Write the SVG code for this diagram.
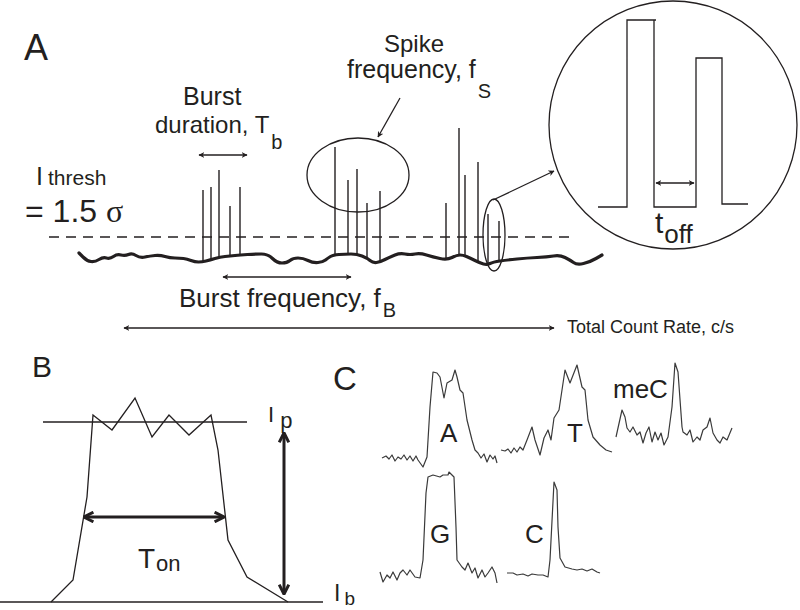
<svg xmlns="http://www.w3.org/2000/svg" width="800" height="610" viewBox="0 0 800 610">
<defs>
<style>
text{font-family:"Liberation Sans","Open Sans",Arial,sans-serif;fill:#231f20}
.ln{fill:none;stroke:#231f20;stroke-width:1.3}
.sp{fill:none;stroke:#231f20;stroke-width:1.4}
.ar{fill:none;stroke:#231f20;stroke-width:1.3;marker-start:url(#ah);marker-end:url(#ah)}
.tk{fill:none;stroke:#231f20;stroke-width:3;marker-start:url(#ahb);marker-end:url(#ahb)}
.tr{fill:none;stroke:#3a3a3a;stroke-width:1.2;stroke-linejoin:round}
</style>
<marker id="ah" viewBox="0 0 10 10" refX="9" refY="5" markerWidth="6" markerHeight="6" markerUnits="userSpaceOnUse" orient="auto-start-reverse"><path d="M0,0 L10,5 L0,10 L3,5 z" fill="#231f20"/></marker>
<marker id="ahb" viewBox="0 0 10 10" refX="8" refY="5" markerWidth="12" markerHeight="12" markerUnits="userSpaceOnUse" orient="auto-start-reverse"><path d="M1,1 L9,5 L1,9" fill="none" stroke="#231f20" stroke-width="2.5"/></marker>
</defs>
<rect width="800" height="610" fill="#fff"/>

<g id="panelA">
<text x="24" y="60" font-size="36">A</text>
<text x="183" y="105" font-size="25">Burst</text>
<text x="155" y="133" font-size="24">duration, T<tspan font-size="20" dy="16" dx="2">b</tspan></text>
<text x="384" y="52" font-size="24">Spike</text>
<text x="347" y="78" font-size="25">frequency, f<tspan font-size="20" dy="20" dx="2">S</tspan></text>
<text x="36" y="185"><tspan font-size="25">I</tspan><tspan font-size="21" dx="5">thresh</tspan></text>
<text x="25" y="222" font-size="32">= 1.5 <tspan font-family="Liberation Serif, serif">σ</tspan></text>
<text x="179" y="307" font-size="26">Burst frequency, f<tspan font-size="20" dy="10" dx="2">B</tspan></text>
<text x="567" y="333" font-size="18">Total Count Rate, c/s</text>

<line x1="49" y1="237" x2="570" y2="237" stroke="#231f20" stroke-width="1.3" stroke-dasharray="10,7"/>
<path fill="none" stroke="#231f20" stroke-width="3.2" stroke-linejoin="round" stroke-linecap="round" d="M79,253 L83,257 Q87,261 91,261.5 Q95,262 99,259.5 Q103,257 106.5,258 Q110,259 113.5,256.5 Q117,254 121,255 Q125,256 128.5,254.5 Q132,253 136,255.5 Q140,258 145,257 Q150,256 155,255.5 Q160,255 165,256.5 Q170,258 175,258 Q180,258 183.5,258.5 Q187,259 191,260.5 Q195,262 198.5,262 Q202,262 206,261 Q210,260 215,258.5 Q220,257 225,256.5 Q230,256 235,255.5 Q240,255 247.5,254.5 Q255,254 261.5,254 Q268,254 272.5,258.5 Q277,263 282,263 Q287,263 290,260.5 Q293,258 298,258 Q303,258 308,260.5 Q313,263 318,262.5 Q323,262 325.5,260 Q328,258 330.5,256.5 Q333,255 339,254.5 Q345,254 351,254 Q357,254 362,256 Q367,258 370,260.5 Q373,263 376.5,262.5 Q380,262 385,259.5 Q390,257 395,255 Q400,253 405,254 Q410,255 415,254 Q420,253 426.5,255 Q433,257 440,258.5 Q447,260 452,257.5 Q457,255 460,255 Q463,255 466.5,256.5 Q470,258 475,260.5 Q480,263 483.5,264 Q487,265 490,263.5 Q493,262 500,261 Q507,260 517,259 Q527,258 537,257.5 Q547,257 553.5,256 Q560,255 565,257.5 Q570,260 573.5,262.5 Q577,265 583.5,263.5 Q590,262 596,258.5 L602,255"/>

<g id="spikes">
<line class="sp" x1="203" y1="190" x2="203" y2="262"/>
<line class="sp" x1="211" y1="187" x2="211" y2="260"/>
<line class="sp" x1="219" y1="170" x2="219" y2="258"/>
<line class="sp" x1="230" y1="206" x2="230" y2="256"/>
<line class="sp" x1="240" y1="187" x2="240" y2="255"/>
<line class="sp" x1="335" y1="147" x2="335" y2="255"/>
<line class="sp" x1="348" y1="180" x2="348" y2="254"/>
<line class="sp" x1="357" y1="169" x2="357" y2="254"/>
<line class="sp" x1="367" y1="203" x2="367" y2="258"/>
<line class="sp" x1="380" y1="191" x2="380" y2="262"/>
<line class="sp" x1="446" y1="203" x2="446" y2="259"/>
<line class="sp" x1="459" y1="128" x2="459" y2="255"/>
<line class="sp" x1="465" y1="175" x2="465" y2="255"/>
<line class="sp" x1="478" y1="162" x2="478" y2="262"/>
<line class="sp" x1="488" y1="214" x2="488" y2="265"/>
<line class="sp" x1="499" y1="221" x2="499" y2="262"/>
</g>

<ellipse class="ln" cx="358" cy="175" rx="51" ry="37"/>
<ellipse class="ln" cx="494" cy="235" rx="11" ry="36"/>
<circle class="ln" cx="673" cy="125" r="124"/>
<path class="ln" d="M598,207 H627 V20 H656 M654,20 V207 H696 V58 H722 V204 H748"/>
<text x="655" y="233" font-size="30">t<tspan font-size="26" dy="10" dx="1">off</tspan></text>
</g>

<g id="connectors">
<line class="ar" x1="199" y1="155" x2="247" y2="155"/>
<line class="ar" x1="656" y1="183" x2="694" y2="183"/>
<line class="ar" x1="223" y1="277" x2="351" y2="277"/>
<line class="ar" x1="124" y1="328" x2="554" y2="328"/>
<line class="ln" x1="400" y1="98" x2="378" y2="137" marker-end="url(#ah)"/>
<line class="ln" x1="493" y1="200" x2="554" y2="171" marker-end="url(#ah)"/>
<line class="tk" x1="85" y1="517" x2="223" y2="517"/>
<line class="tk" x1="284" y1="434" x2="284" y2="593"/>
</g>

<g id="panelB">
<text x="32" y="377" font-size="30">B</text>
<line class="ln" x1="43" y1="422" x2="247" y2="422"/>
<line class="ln" x1="0" y1="602" x2="323" y2="602"/>
<polyline class="ln" points="51,602 73,580 87,497 93,415 112,430 135,398 152,437 169,415 189,435 211,415 218,450 228,540 247,577 288,602"/>
<text x="138" y="568" font-size="28">T<tspan font-size="22" dy="3" dx="1">on</tspan></text>
<text x="268" y="422" font-size="22">I<tspan font-size="22" dy="6" dx="6">p</tspan></text>
<text x="334" y="601" font-size="23">I<tspan font-size="19" dy="4" dx="4">b</tspan></text>
</g>

<g id="panelC">
<text x="333" y="390" font-size="33">C</text>
<polyline class="tr" points="382,458 386,456 389,459 392,455 395,461 398,457 401,459 404,455 407,460 410,456 413,461 416,456 418,460 423,467 427,457 430,407 433,372 437,373 440,377 444,398 447,383 452,380 455,370 457,377 460,390 463,393 467,420 472,440 475,450 478,453 481,458 484,454 487,462 490,455 493,459 495,456 497,463"/>
<text x="440" y="442" font-size="26">A</text>
<polyline class="tr" points="501,450 505,451 508,449 511,453 514,448 517,452 520,447 523,450 527,440 532,427 535,440 540,455 544,438 548,430 551,440 554,418 559,410 565,370 570,383 577,365 582,387 585,390 588,420 593,437 600,445 606,450 612,452"/>
<text x="567" y="442" font-size="26">T</text>
<polyline class="tr" points="616,437 622,410 625,417 627,428 630,432 633,427 637,435 640,432 643,443 646,433 649,427 652,442 655,432 658,440 661,433 664,445 668,437 672,407 675,363 678,372 682,427 683,432 687,435 690,430 693,442 697,437 700,440 703,430 707,427 710,418 713,433 717,440 720,443 723,437 727,440 732,428"/>
<text x="613" y="398" font-size="26">meC</text>
<polyline class="tr" points="380,572 383,582 387,575 390,578 393,572 397,580 400,573 403,570 407,575 410,570 415,577 420,578 423,560 426,493 428,477 433,475 440,477 443,475 448,475 449,472 454,477 456,527 457,560 462,567 465,570 468,563 472,573 475,568 478,578 482,570 485,577 488,573 492,567 495,573 497,583"/>
<text x="430" y="543" font-size="26">G</text>
<polyline class="tr" points="507,573 513,573 517,575 523,574 528,576 532,574 538,575 543,575 548,577 550,560 554,482 557,490 558,527 560,558 565,567 572,569 577,570 582,569 587,571 592,569 597,572 600,573"/>
<text x="525" y="543" font-size="26">C</text>
</g>
</svg>
